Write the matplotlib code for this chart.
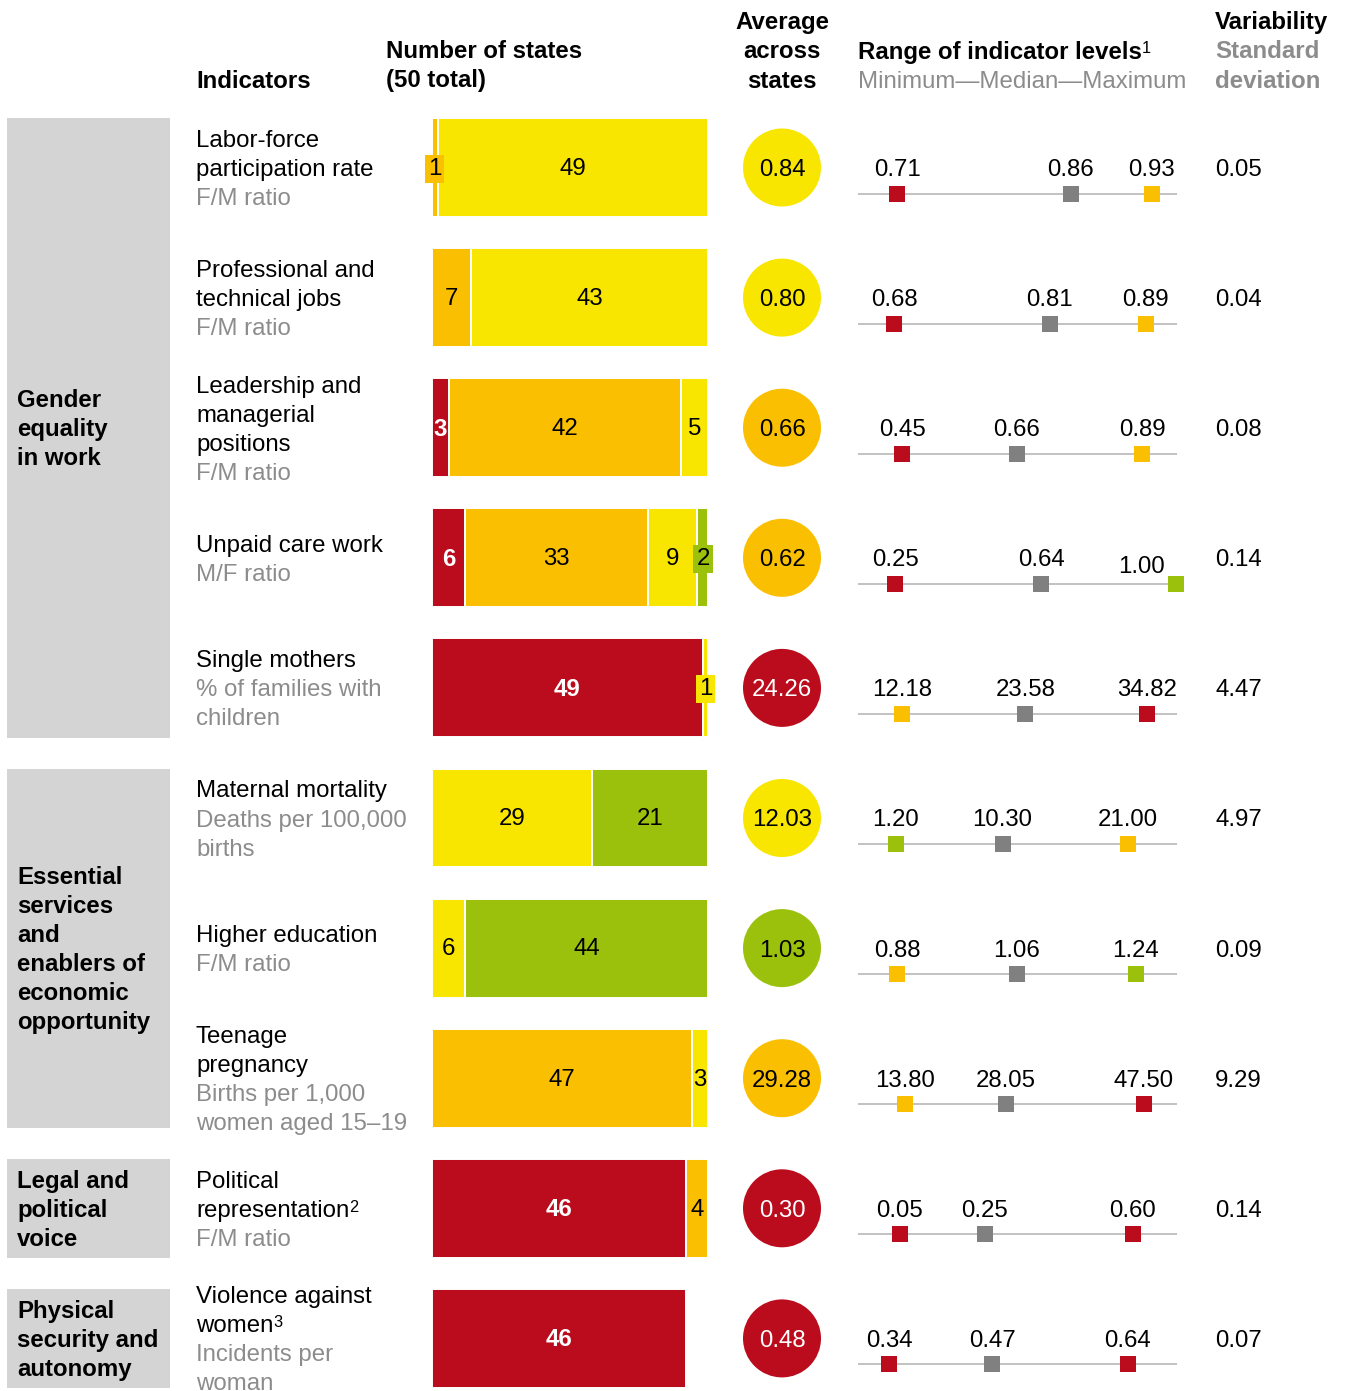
import matplotlib
matplotlib.use('Agg')
import matplotlib.pyplot as plt
from matplotlib.patches import Circle, Rectangle

plt.rcParams['font.family'] = ['Liberation Sans', 'DejaVu Sans']

W, H = 1349, 1391
FS = 17.3

RED = '#BA0C1C'
ORANGE = '#F9BF00'
YELLOW = '#F8E600'
GREEN = '#9BC10C'
BOX = '#D4D4D4'
MEDIAN = '#808080'
LINE = '#BDBDBD'
SUB = '#8C8C8C'
colmap = {'red': RED, 'orange': ORANGE, 'yellow': YELLOW, 'green': GREEN}
SUPS = {'¹': '1', '²': '2', '³': '3'}

# data
titles = [["Labor-force", "participation rate"],
          ["Professional and", "technical jobs"],
          ["Leadership and", "managerial", "positions"],
          ["Unpaid care work"],
          ["Single mothers"],
          ["Maternal mortality"],
          ["Higher education"],
          ["Teenage", "pregnancy"],
          ["Political", "representation²"],
          ["Violence against", "women³"]]
units = [["F/M ratio"], ["F/M ratio"], ["F/M ratio"], ["M/F ratio"],
         ["% of families with", "children"],
         ["Deaths per 100,000", "births"],
         ["F/M ratio"],
         ["Births per 1,000", "women aged 15–19"],
         ["F/M ratio"],
         ["Incidents per", "woman"]]
red_n = [0, 0, 3, 6, 49, 0, 0, 0, 46, 46]
orange_n = [1, 7, 42, 33, 0, 0, 0, 47, 4, 0]
yellow_n = [49, 43, 5, 9, 1, 29, 6, 3, 0, 0]
green_n = [0, 0, 0, 2, 0, 21, 44, 0, 0, 0]
avg_vals = ["0.84", "0.80", "0.66", "0.62", "24.26", "12.03", "1.03", "29.28", "0.30", "0.48"]
avg_colors = ['yellow', 'yellow', 'orange', 'orange', 'red', 'yellow', 'green', 'orange', 'red', 'red']
mins = [0.71, 0.68, 0.45, 0.25, 12.18, 1.20, 0.88, 13.80, 0.05, 0.34]
medians = [0.86, 0.81, 0.66, 0.64, 23.58, 10.30, 1.06, 28.05, 0.25, 0.47]
maxs = [0.93, 0.89, 0.89, 1.00, 34.82, 21.00, 1.24, 47.50, 0.60, 0.64]
min_colors = ['red', 'red', 'red', 'red', 'orange', 'green', 'orange', 'orange', 'red', 'red']
max_colors = ['orange', 'orange', 'orange', 'green', 'red', 'orange', 'green', 'red', 'red', 'red']
# scale of each range strip (left end, right end of the grey line)
strip_lo = [0.676, 0.65, 0.369, 0.151, 8.11, -2.04, 0.821, 7.17, -0.049, 0.301]
strip_hi = [0.952, 0.916, 0.954, 1.003, 37.59, 25.18, 1.302, 52.15, 0.704, 0.702]
sd_vals = ["0.05", "0.04", "0.08", "0.14", "4.47", "4.97", "0.09", "9.29", "0.14", "0.07"]
groups = [(["Gender", "equality", "in work"], 0, 4),
          (["Essential", "services", "and", "enablers of", "economic", "opportunity"], 5, 7),
          (["Legal and", "political", "voice"], 8, 8),
          (["Physical", "security and", "autonomy"], 9, 9)]

row_y0 = 167.5
row_step = 130.1
line_h = 29
rows_y = [row_y0 + row_step * i for i in range(len(titles))]

fig = plt.figure(figsize=(W / 100, H / 100), dpi=100)
ax = fig.add_axes([0, 0, 1, 1])
ax.set_xlim(0, W)
ax.set_ylim(H, 0)
ax.axis('off')


def txt(x, y, s, **kw):
    # y is the visual middle of the capitals
    kw.setdefault('fontsize', FS)
    sup = None
    if s and s[-1] in SUPS:
        s, sup = s[:-1], SUPS[s[-1]]
    t = ax.text(x, y + 8.5, s, va='baseline', **kw)
    if sup:
        ax.annotate(sup, xy=(1.0, y - 8.8), xycoords=(t, 'data'), xytext=(0, 0),
                    textcoords='offset points', ha='left', va='top',
                    fontsize=FS * 0.68, color=kw.get('color', 'black'))
    return t


def lines(x, yc, items, **kw):
    n = len(items)
    for k, (s, c, w) in enumerate(items):
        txt(x, yc + (k - (n - 1) / 2) * line_h, s, color=c, fontweight=w, **kw)


# headers
txt(196, 79, "Indicators", fontweight='bold')
txt(386, 50, "Number of states", fontweight='bold')
txt(386, 79, "(50 total)", fontweight='bold')
for s, y in [("Average", 21), ("across", 50), ("states", 79)]:
    txt(782, y, s, fontweight='bold', ha='center')
txt(858, 50, "Range of indicator levels¹", fontweight='bold')
txt(858, 79, "Minimum—Median—Maximum", color=SUB)
txt(1215, 21, "Variability", fontweight='bold')
txt(1215, 50, "Standard", fontweight='bold', color=SUB)
txt(1215, 79, "deviation", fontweight='bold', color=SUB)

# group boxes
for labels, a, b in groups:
    top = rows_y[a] - 49.5
    bot = rows_y[b] + 50
    ax.add_patch(Rectangle((7, top), 163, bot - top, color=BOX, lw=0))
    lines(17, (top + bot) / 2, [(s, 'black', 'bold') for s in labels])

# indicator texts, averages, sd
for i, yc in enumerate(rows_y):
    items = [(s, 'black', 'normal') for s in titles[i]] + [(s, SUB, 'normal') for s in units[i]]
    lines(196, yc, items)
    c = avg_colors[i]
    ax.add_patch(Circle((782, yc), 39, color=colmap[c], lw=0))
    txt(782, yc, avg_vals[i], ha='center', color='white' if c == 'red' else 'black')
    txt(1215, yc, sd_vals[i])

# stacked bars
axb = fig.add_axes([432 / W, 0, 276.5 / W, 1])
axb.set_xlim(0, 50)
axb.set_ylim((H - row_y0) / row_step, -row_y0 / row_step)
axb.axis('off')
for i in range(len(titles)):
    left = 0
    for n, c in [(red_n[i], 'red'), (orange_n[i], 'orange'), (yellow_n[i], 'yellow'), (green_n[i], 'green')]:
        if n == 0:
            continue
        axb.barh(i, n, left=left, height=0.76, color=colmap[c], edgecolor='white', linewidth=1.4)
        kw = dict(ha='center', va='center', fontsize=FS)
        if c == 'red':
            kw.update(color='white', fontweight='bold')
        if n <= 2:
            kw['bbox'] = dict(boxstyle='square,pad=0.12', fc=colmap[c], ec='none')
        axb.text(left + n / 2, i + 0.01, str(n), clip_on=False, **kw)
        left += n

# range strips
for i, yc in enumerate(rows_y):
    ly = yc + 26
    axr = fig.add_axes([858 / W, (H - ly - 40) / H, 319 / W, 80 / H])
    axr.set_xlim(strip_lo[i], strip_hi[i])
    axr.set_ylim(-40, 40)
    axr.axis('off')
    axr.axhline(0, color=LINE, lw=1.3, zorder=1)
    at_end = (strip_hi[i] - maxs[i]) / (strip_hi[i] - strip_lo[i]) < 0.02
    for k, (v, c) in enumerate([(mins[i], colmap[min_colors[i]]), (medians[i], MEDIAN),
                                (maxs[i], colmap[max_colors[i]])]):
        axr.plot([v], [0], marker='s', ms=11.5, mew=0, color=c, clip_on=False, zorder=2)
        if k == 2 and at_end:
            # label of a marker at the very end of the strip is tucked in to the left
            axr.annotate(f"{v:.2f}", xy=(v, 26 - 8.5), xytext=(-25, -4.5), textcoords='offset points',
                         ha='center', va='baseline', fontsize=FS, annotation_clip=False)
        else:
            axr.text(v, 26 - 8.5, f"{v:.2f}", ha='center', va='baseline', fontsize=FS, clip_on=False)

fig.savefig('out.png', dpi=100)
